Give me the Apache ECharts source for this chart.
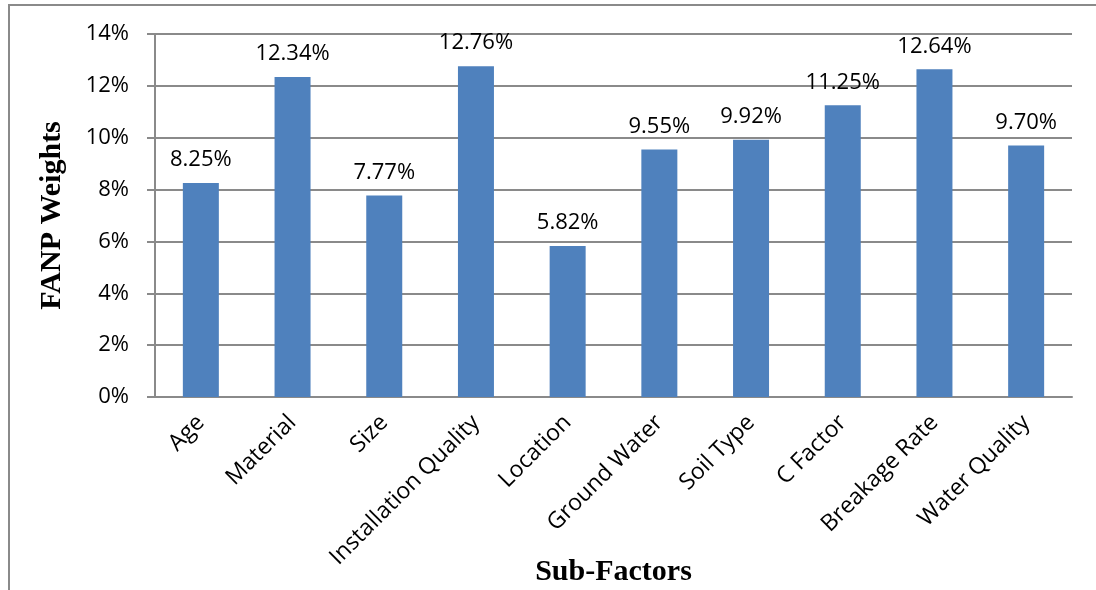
<!DOCTYPE html>
<html>
<head>
<meta charset="utf-8">
<script src="https://cdn.jsdelivr.net/npm/echarts@6/dist/echarts.min.js"></script>
<style>
  html, body { margin: 0; padding: 0; background: #fff; }
  #myChart { position: absolute; left: 0; top: 0; width: 1096px; height: 590px; }
  .frame { position: absolute; left: 8px; top: 4px; width: 1100px; height: 600px;
    border-top: 2px solid #8a8a8a; border-left: 2px solid #8a8a8a; pointer-events: none; }
</style>
</head>
<body>
<div id="myChart"></div>
<div class="frame"></div>
<script>
// 子因素及权重（%）
var subFactors = ["Age", "Material", "Size", "Installation Quality", "Location",
  "Ground Water", "Soil Type", "C Factor", "Breakage Rate", "Water Quality"];
var fanpWeights = [8.25, 12.34, 7.77, 12.76, 5.82, 9.55, 9.92, 11.25, 12.64, 9.70];

var myChart = echarts.init(document.getElementById("myChart"));
myChart.setOption({
  animation: false,
  grid: { left: 155, right: 24, top: 34, bottom: 193, containLabel: false, outerBoundsMode: "none" },
  xAxis: {
    type: "category",
    data: subFactors,
    name: "Sub-Factors",
    nameLocation: "middle",
    nameGap: 160,
    nameMoveOverlap: false,
    nameTextStyle: { fontFamily: "Liberation Serif", fontWeight: "bold", fontSize: 30, color: "#000" },
    axisLine: { lineStyle: { color: "#8a8a8a", width: 2 } },
    axisTick: { length: 8, lineStyle: { color: "#8a8a8a", width: 2 } },
    axisLabel: { rotate: 45, margin: 22, interval: 0, fontFamily: "Open Sans", fontSize: 23, color: "#000" }
  },
  yAxis: {
    type: "value",
    min: 0,
    max: 14,
    interval: 2,
    name: "FANP Weights",
    nameLocation: "middle",
    nameGap: 88,
    nameMoveOverlap: false,
    nameTextStyle: { fontFamily: "Liberation Serif", fontWeight: "bold", fontSize: 30, color: "#000" },
    axisLine: { show: true, lineStyle: { color: "#8a8a8a", width: 2 } },
    axisTick: { show: true, length: 8, lineStyle: { color: "#8a8a8a", width: 2 } },
    splitLine: { lineStyle: { color: "#8a8a8a", width: 2 } },
    axisLabel: { formatter: "{value}%", margin: 26, fontFamily: "Open Sans", fontSize: 22, color: "#000" }
  },
  series: [{
    type: "bar",
    data: fanpWeights,
    barWidth: 36,
    itemStyle: { color: "#4f81bd" },
    label: {
      show: true,
      position: "top",
      distance: 12,
      fontFamily: "Open Sans",
      fontSize: 22,
      color: "#000",
      formatter: function (p) { return p.value.toFixed(2) + "%"; }
    }
  }]
});
</script>
</body>
</html>
